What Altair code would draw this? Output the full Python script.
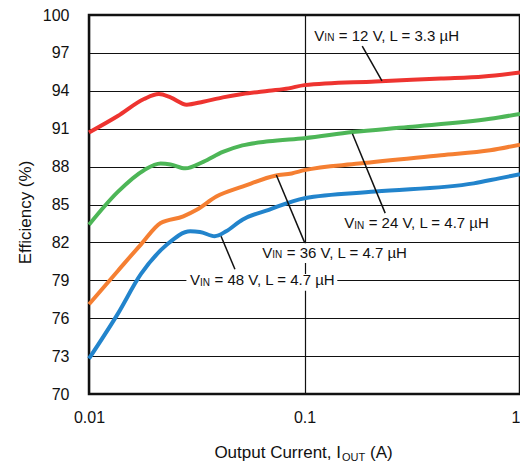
import altair as alt
import pandas as pd

# ---- data ----
red_x = [0.01, 0.0136, 0.018, 0.0211, 0.0239, 0.0284, 0.0339, 0.0418, 0.0515, 0.0683, 0.0843, 0.1, 0.213, 0.43, 0.678, 1.0]
red_y = [90.7, 92.0, 93.35, 93.74, 93.48, 92.9, 93.14, 93.48, 93.74, 94.0, 94.19, 94.45, 94.74, 94.97, 95.13, 95.45]

green_x = [0.01, 0.0136, 0.018, 0.0215, 0.0239, 0.028, 0.0339, 0.0418, 0.0515, 0.0683, 0.1, 0.1667, 0.303, 0.727, 1.0]
green_y = [83.4, 86.0, 87.72, 88.24, 88.17, 87.86, 88.38, 89.16, 89.68, 90.0, 90.25, 90.73, 91.13, 91.78, 92.17]

orange_x = [0.01, 0.0136, 0.0174, 0.0215, 0.0274, 0.0316, 0.039, 0.0515, 0.0731, 0.0872, 0.1, 0.179, 0.43, 0.727, 1.0]
orange_y = [77.1, 79.74, 81.83, 83.53, 84.06, 84.58, 85.63, 86.41, 87.28, 87.46, 87.72, 88.24, 88.9, 89.29, 89.74]

blue_x = [0.01, 0.0136, 0.0174, 0.023, 0.0295, 0.0327, 0.0383, 0.0433, 0.0515, 0.0683, 0.1, 0.213, 0.61, 0.8, 1.0]
blue_y = [72.8, 76.34, 79.48, 81.83, 82.88, 82.83, 82.49, 82.88, 83.8, 84.58, 85.5, 86.02, 86.67, 87.07, 87.4]

series_names = ["12V", "24V", "36V", "48V"]
series_colors = ["#EE3430", "#4DB657", "#F57F32", "#2284CC"]

x_ticks = [0.01, 0.1, 1]
y_ticks = [70, 73, 76, 79, 82, 85, 88, 91, 94, 97, 100]

# annotations
ann_x = [0.1111, 0.1528, 0.0637, 0.02944]
ann_y = [98.35, 83.53, 81.18, 79.0]
ann_rest = ["= 12 V, L = 3.3 µH", "= 24 V, L = 4.7 µH", "= 36 V, L = 4.7 µH", "= 48 V, L = 4.7 µH"]

lead_x1 = [0.1853, 0.1669, 0.074, 0.041]
lead_y1 = [97.54, 90.6, 87.33, 82.49]
lead_x2 = [0.2288, 0.2368, 0.1003, 0.04755]
lead_y2 = [94.79, 84.32, 81.96, 79.87]

box_x1 = [0.0616, 0.02831]
box_x2 = [0.31, 0.142]
box_y1 = [81.94, 79.5]
box_y2 = [80.37, 78.17]

# ---- tables ----
rows = []
for name, xs, ys in zip(series_names, [red_x, green_x, orange_x, blue_x], [red_y, green_y, orange_y, blue_y]):
    for i, (a, b) in enumerate(zip(xs, ys)):
        rows.append({"series": name, "x": a, "y": b, "order": i})
lines_df = pd.DataFrame(rows)

ann_df = pd.DataFrame({"x": ann_x, "y": ann_y, "rest": ann_rest, "v": ["V"] * 4, "sub": ["IN"] * 4})
lead_df = pd.DataFrame({"x": lead_x1, "y": lead_y1, "x2": lead_x2, "y2": lead_y2})
box_df = pd.DataFrame({"x": box_x1, "x2": box_x2, "y": box_y1, "y2": box_y2})

FONT = "Liberation Sans"
INK = "#111"

xscale = alt.Scale(type="log", domain=[0.01, 1], nice=False)
yscale = alt.Scale(domain=[70, 100], nice=False, zero=False)

xaxis = alt.Axis(values=x_ticks, format=".2~f", title=None, grid=True, ticks=False, domain=False,
                 labelPadding=15, labelFontSize=16, labelFont=FONT, labelColor=INK,
                 labelAlign={"condition": {"test": "datum.value >= 1", "value": "right"}, "value": "center"},
                 labelFlush=False, labelOverlap=False)
yaxis = alt.Axis(values=y_ticks, title="Efficiency (%)", grid=True, ticks=False, domain=False,
                 labelPadding=20, labelFontSize=16, labelFont=FONT, labelColor=INK,
                 titleFont=FONT, titleFontSize=17, titleFontWeight="normal", titleColor=INK,
                 titleX=-64, titleY=197, titleAngle=-90, titleAlign="center", titleBaseline="middle",
                 labelOverlap=False, labelFlush=False)

X = alt.X("x:Q", scale=xscale, axis=xaxis)
Y = alt.Y("y:Q", scale=yscale, axis=yaxis)

lines = alt.Chart(lines_df).mark_line(strokeWidth=4, interpolate="monotone").encode(
    x=X, y=Y,
    color=alt.Color("series:N", scale=alt.Scale(domain=series_names, range=series_colors), legend=None),
    order="order:Q",
)

boxes = alt.Chart(box_df).mark_rect(color="white").encode(x=X, x2="x2:Q", y=Y, y2="y2:Q")

leaders = alt.Chart(lead_df).mark_rule(color=INK, strokeWidth=1.5).encode(x=X, x2="x2:Q", y=Y, y2="y2:Q")

t_v = alt.Chart(ann_df).mark_text(align="left", baseline="middle", fontSize=15, font=FONT, color=INK).encode(
    text="v:N", x=X, y=Y)
t_sub = alt.Chart(ann_df).mark_text(align="left", baseline="middle", fontSize=10, font=FONT, color=INK,
                                     dx=10, dy=2.5).encode(text="sub:N", x=X, y=Y)
t_rest = alt.Chart(ann_df).mark_text(align="left", baseline="middle", fontSize=15, font=FONT, color=INK,
                                      dx=24.5).encode(text="rest:N", x=X, y=Y)

title_df = pd.DataFrame({"a": ["Output Current, I"], "b": ["OUT"], "c": ["(A)"]})
xt1 = alt.Chart(title_df).mark_text(align="right", baseline="middle", fontSize=17, font=FONT, color=INK).encode(
    text="a:N", x=alt.value(252), y=alt.value(438))
xt2 = alt.Chart(title_df).mark_text(align="left", baseline="middle", fontSize=11, font=FONT, color=INK).encode(
    text="b:N", x=alt.value(253), y=alt.value(442.8))
xt3 = alt.Chart(title_df).mark_text(align="left", baseline="middle", fontSize=17, font=FONT, color=INK).encode(
    text="c:N", x=alt.value(281), y=alt.value(438))

chart = alt.layer(lines, boxes, leaders, t_v, t_sub, t_rest, xt1, xt2, xt3).properties(
    width=431, height=379,
    padding={"left": 81, "top": 7, "right": 0, "bottom": 69},
    autosize=alt.AutoSizeParams(type="none"),
    background="white",
).configure_view(
    stroke=INK, strokeWidth=2.5
).configure_axis(
    gridColor=INK, gridWidth=1.2, gridOpacity=1
)

chart.save("out.html", embed_options={"renderer": "svg", "actions": False})
